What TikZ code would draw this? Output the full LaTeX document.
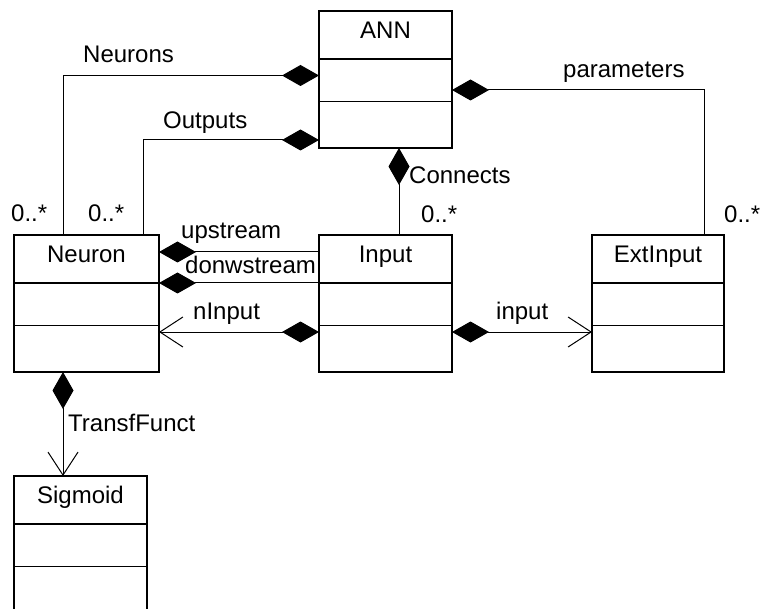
\documentclass[tikz,border=0pt]{standalone}
\usepackage{fontspec}
\setmainfont{Liberation Sans}
\usetikzlibrary{arrows.meta,shadows}

% class box: name, x, y, width, title
\newcommand\umlclass[5]{%
  \node[classbox, minimum width=#4pt] (#1) at (#2,#3) {};
  \draw[divider] ([yshift=-48pt]#1.north west) -- ([yshift=-48pt]#1.north east);
  \draw[divider] ([yshift=-90.5pt]#1.north west) -- ([yshift=-90.5pt]#1.north east);
  \node[classtitle] (#1-title) at ([yshift=-27.5pt]#1.north) {#5};
}

\begin{document}
\begin{tikzpicture}[x=1pt,y=-1pt,
  classbox/.style={draw, line width=1.3pt, fill=white, inner sep=0pt, outer sep=0pt,
    anchor=north west, minimum height=137pt,
    drop shadow={shadow xshift=1.3pt, shadow yshift=-1.3pt, fill=black!45, opacity=0.6}},
  divider/.style={line width=1.3pt},
  classtitle/.style={anchor=base, inner sep=0pt, font=\fontsize{24}{28}\selectfont},
  lbl/.style={anchor=base west, inner sep=0pt, font=\fontsize{24}{28}\selectfont},
  conn/.style={line width=1pt},
  comp/.style={conn, {Diamond[length=37pt,width=21pt]}-},
  compnav/.style={conn, {Diamond[length=37pt,width=21pt]}-{Straight Barb[length=23pt,width=30pt,line width=1pt]}},
]
\useasboundingbox (0,0) rectangle (762,609);
\clip (0,0) rectangle (762,609);

% classes
\umlclass{ann}{319}{11}{133}{ANN}
\umlclass{neuron}{14}{235}{145}{Neuron}
\umlclass{input}{319}{235}{133}{Input}
\umlclass{extinput}{592}{235}{132}{ExtInput}
\umlclass{sigmoid}{14}{476}{133}{Sigmoid}

% compositions owned by ANN
\draw[comp] ([yshift=-64.5pt]ann.north west) -| ([xshift=49pt]neuron.north west);
\draw[comp] ([yshift=8pt]ann.south west) -| ([xshift=-16pt]neuron.north east);
\draw[comp] ([yshift=-79pt]ann.north east) -| ([xshift=-20pt]extinput.north east);
\draw[comp] ([xshift=13.5pt]ann.south) -- ([xshift=13.5pt]input.north);

% Neuron -- Input links
\draw[comp] ([yshift=-17pt]neuron.north east) -- ([yshift=-17pt]input.north west);
\draw[comp] ([yshift=-48pt]neuron.north east) -- ([yshift=-48pt]input.north west);
\draw[compnav] ([yshift=-97pt]input.north west) -- ([yshift=-97pt]neuron.north east);
\draw[compnav] ([yshift=-97pt]input.north east) -- ([yshift=-97pt]extinput.north west);
\draw[compnav] ([xshift=49pt]neuron.south west) -- ([xshift=49pt]sigmoid.north west);

% role names and multiplicities
\node[lbl] (l-neurons) at (83,63) {Neurons};
\node[lbl] (l-outputs) at (163,129) {Outputs};
\node[lbl] (l-params) at (563,78) {parameters};
\node[lbl] (l-connects) at (409,184) {Connects};
\node[lbl] (m-neurons) at (11,222) {0..*};
\node[lbl] (m-outputs) at (88,222) {0..*};
\node[lbl] (m-connects) at (421,223) {0..*};
\node[lbl] (m-params) at (724,223) {0..*};
\node[lbl] (l-up) at (181,239) {upstream};
\node[lbl] (l-down) at (185,273) {donwstream};
\node[lbl] (l-ninput) at (193,319) {nInput};
\node[lbl] (l-input) at (496,319) {input};
\node[lbl] (l-transf) at (68,431) {TransfFunct};
\end{tikzpicture}
\end{document}
